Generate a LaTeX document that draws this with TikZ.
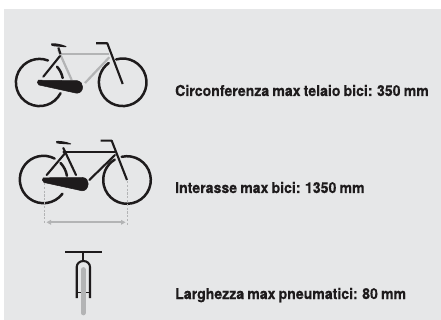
\documentclass[tikz,border=0pt]{standalone}
\usepackage{fontspec}
\setmainfont{TeX Gyre Heros}
\newfontfamily\labf[FakeStretch=.94,WordSpace=.8,BoldFeatures={FakeBold=.3}]{TeX Gyre Heros}
\definecolor{bgc}{HTML}{E6E7E8}
\definecolor{gryc}{HTML}{B3B4B5}
\definecolor{inkc}{HTML}{1E1B1C}
\newcommand{\warc}[6][wheel]{\draw[#1] (#2,#3) ++(#5:#4pt) arc[start angle=#5,end angle=#6,radius=#4pt];}
\tikzset{
 ink/.style={draw=inkc,line width=2.1pt,line cap=round,line join=round},
 wheel/.style={draw=inkc,line width=2.5pt,line cap=round},
 grayline/.style={draw=gryc,line width=2.2pt,line cap=butt},
 guard/.style={fill=inkc,draw=inkc,line width=.5pt,line join=round},
 guide/.style={draw=gryc,line width=.9pt,dash pattern=on 2.2pt off 1.6pt},
 lab/.style={anchor=base west,inner sep=0pt,font=\labf\bfseries\fontsize{15pt}{17pt}\selectfont,text=inkc}
}
\begin{document}
\begin{tikzpicture}[x=1pt,y=1pt,yscale=-1]
\useasboundingbox (0,0) rectangle (441,320);
\fill[white] (0,0) rectangle (441,320);
\fill[bgc] (4,9) rectangle (441,320);
% ---- bike 1
\draw[grayline] (58.3,50) -- (71.7,80);
\draw[grayline] (61,54) -- (109,54);
\draw[grayline] (109.3,57.3) -- (85,83);
\warc{39.5}{82.5}{23.6}{27}{291}
\warc{39.5}{82.5}{23.6}{-42}{-11}
\warc{122.7}{82.3}{23.8}{-106}{234}
\draw[ink] (43.3,76.7) -- (60,56);
\draw[ink,line cap=butt] (58.3,47.5) -- (60.5,54);
\fill[inkc] (51,43.6) .. controls (52,42.8) and (60,43.4) .. (66.3,46.2) .. controls (66.8,47) and (66,47.3) .. (65,47.2) .. controls (60,46.6) and (53,46.6) .. (51.5,45.6) .. controls (51,45) and (50.7,44.3) .. (51,43.6) -- cycle;
\draw[ink,line cap=butt] (96,43.3) -- (107.3,43.3) -- (122.7,84);
\draw[guard] (38.3,80.2) -- (77.3,80.7) .. controls (81,81.5) and (82.6,84) .. (82.6,87) .. controls (82.6,91) and (80,93.3) .. (76.5,93.2) -- (39,85) .. controls (37,84) and (37,81) .. (38.3,80.2) -- cycle;
% ---- bike 2
\warc{43.5}{179.5}{23.7}{37}{298}
\warc{43.5}{179.5}{23.7}{-44}{-9}
\warc{127}{180}{23.8}{-103}{239}
\draw[ink] (63.3,152) -- (115,152);
\draw[ink] (63.3,148) -- (76,175);
\draw[ink] (115,155) -- (89.3,180);
\draw[ink] (46.7,175) -- (65,153.3);
\draw[ink,line cap=butt] (100.7,140.7) -- (111.7,140.7) -- (127,180);
\fill[inkc] (56,141.3) .. controls (57,140.5) and (65,141) .. (71,143.5) .. controls (71.5,144.3) and (70.7,144.6) .. (70,144.5) .. controls (65,144) and (58,144) .. (56.5,143.2) .. controls (56,142.7) and (55.7,142) .. (56,141.3) -- cycle;
\draw[guard] (43.2,177.8) -- (82.5,177.5) .. controls (86.5,177.8) and (88.2,180.5) .. (88.2,183.5) .. controls (88.2,188) and (85.5,191) .. (82,190.8) -- (44,182.5) .. controls (42,181.5) and (42,178.5) .. (43.2,177.8) -- cycle;
\coordinate (gla) at (44.7,183);
\coordinate (glb) at (44.7,223);
\coordinate (gra) at (127.3,181);
\coordinate (grb) at (127.3,225);
\draw[guide] (gla) -- (glb);
\draw[guide] (gra) -- (grb);
\coordinate (dl) at (46.5,222.3);
\coordinate (dr) at (125.5,222.3);
\draw[draw=gryc,line width=1.8pt] (49,222.3) -- (123,222.3);
\fill[gryc] (dl) -- (51,219.8) -- (51,224.8) -- cycle;
\fill[gryc] (dr) -- (121,219.8) -- (121,224.8) -- cycle;
% ---- bike 3
\draw[draw=gryc,line width=4.7pt,line cap=round] (83.3,269.5) -- (83.3,313);
\draw[ink,line cap=butt] (65,251.7) -- (101.7,251.7);
\draw[ink,line cap=butt] (83.3,251.7) -- (83.3,261);
\draw[ink,line cap=butt] (76.7,298) -- (76.7,267) arc[start angle=180,end angle=360,x radius=6.65pt,y radius=6pt] -- (90,298);
\draw[ink,line width=1.3pt,line cap=butt] (76.7,292.7) -- (80.5,292.7);
\draw[ink,line width=1.3pt,line cap=butt] (86.2,292.7) -- (90,292.7);
% ---- labels
\node[lab] (t1) at (175,96) {Circonferenza max telaio bici: 350 mm};
\node[lab] (t2) at (175,193) {Interasse max bici: 1350 mm};
\node[lab] (t3) at (175,299) {Larghezza max pneumatici: 80 mm};
\end{tikzpicture}
\end{document}
